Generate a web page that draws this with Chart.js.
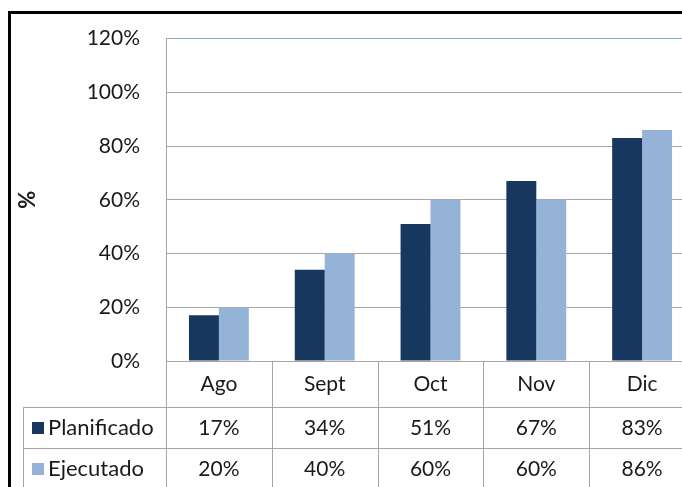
<!DOCTYPE html>
<html>
<head>
<meta charset="utf-8">
<script src="https://cdn.jsdelivr.net/npm/chart.js@4/dist/chart.umd.min.js"></script>
<style>
  html, body { margin: 0; padding: 0; background: #fff; }
  #wrap { width: 682px; height: 487px; overflow: hidden; position: relative; }
  canvas { position: absolute; left: 0; top: 0; }
</style>
</head>
<body>
<div id="wrap">
  <canvas id="chart" width="720" height="500"></canvas>
</div>
<script>
const months = ['Ago', 'Sept', 'Oct', 'Nov', 'Dic'];
const planificado = [17, 34, 51, 67, 83];
const ejecutado = [20, 40, 60, 60, 86];
const seriesNames = ['Planificado', 'Ejecutado'];
const seriesColors = ['#17375E', '#95B3D7'];

const FONT = 'Lato, Calibri, sans-serif';
const TEXT = '#1a1a1a';
const LINE = '#a6a6a6';

// draws the white page + black frame behind everything
const framePlugin = {
    id: 'frame',
    beforeDraw(chart) {
        const ctx = chart.ctx;
        ctx.save();
        ctx.fillStyle = '#fff';
        ctx.fillRect(0, 0, chart.width, chart.height);
        ctx.fillStyle = '#000';
        ctx.fillRect(8, 11, chart.width, 3);
        ctx.fillRect(8, 11, 3, chart.height);
        ctx.restore();
    }
};

// Excel style data table under the plot
const dataTablePlugin = {
    id: 'dataTable',
    afterDraw(chart) {
        const ctx = chart.ctx;
        const x = chart.scales.x;
        const area = chart.chartArea;
        const bottom = chart.height;
        const catW = x.width / months.length;
        const row1 = area.bottom + 46;
        const row2 = row1 + 41;
        const tableLeft = 23;

        ctx.save();
        ctx.strokeStyle = LINE;
        ctx.lineWidth = 1;
        ctx.beginPath();
        for (let i = 0; i <= months.length; i++) {
            const px = Math.round(area.left + i * catW) + 0.5;
            ctx.moveTo(px, area.bottom);
            ctx.lineTo(px, bottom);
        }
        ctx.moveTo(tableLeft + 0.5, row1);
        ctx.lineTo(tableLeft + 0.5, bottom);
        ctx.moveTo(tableLeft, row1 + 0.5);
        ctx.lineTo(area.right, row1 + 0.5);
        ctx.moveTo(tableLeft, row2 + 0.5);
        ctx.lineTo(area.right, row2 + 0.5);
        ctx.stroke();

        ctx.fillStyle = TEXT;
        ctx.font = '21px ' + FONT;
        ctx.textAlign = 'center';
        ctx.textBaseline = 'middle';
        const rowsY = [area.bottom + 23, row1 + 21, row2 + 21];
        months.forEach((m, i) => {
            const cx = x.getPixelForValue(i);
            ctx.fillText(m, cx, rowsY[0]);
            ctx.fillText(planificado[i] + '%', cx, rowsY[1]);
            ctx.fillText(ejecutado[i] + '%', cx, rowsY[2]);
        });

        ctx.textAlign = 'left';
        ctx.font = '22px ' + FONT;
        seriesNames.forEach((name, i) => {
            const cy = rowsY[i + 1];
            ctx.fillStyle = seriesColors[i];
            ctx.fillRect(32, cy - 6, 12, 12);
            ctx.fillStyle = TEXT;
            ctx.fillText(name, 48, cy);
        });
        ctx.restore();
    }
};

new Chart(document.getElementById('chart'), {
    type: 'bar',
    data: {
        labels: months,
        datasets: [
            {
                label: seriesNames[0],
                data: planificado,
                backgroundColor: seriesColors[0],
                categoryPercentage: 0.566,
                barPercentage: 1.0
            },
            {
                label: seriesNames[1],
                data: ejecutado,
                backgroundColor: seriesColors[1],
                categoryPercentage: 0.566,
                barPercentage: 1.0
            }
        ]
    },
    options: {
        responsive: false,
        animation: false,
        events: [],
        layout: {
            padding: { left: 11, top: 36, right: 25, bottom: 139 }
        },
        plugins: {
            legend: { display: false },
            tooltip: { enabled: false }
        },
        scales: {
            x: {
                display: false
            },
            y: {
                min: 0,
                max: 120,
                ticks: {
                    stepSize: 20,
                    padding: 26,
                    color: TEXT,
                    font: { family: FONT, size: 21 },
                    callback: v => v + '%'
                },
                grid: {
                    drawTicks: false,
                    color: ctx => ctx.tick && ctx.tick.value === 120 ? '#8ea9cf' : LINE,
                    lineWidth: 1
                },
                border: { color: LINE },
                title: {
                    display: true,
                    text: '%',
                    color: TEXT,
                    font: { family: FONT, size: 22, weight: 'bold' },
                    padding: { top: 4, bottom: 4 }
                },
                afterFit(scale) {
                    scale.width = 155;
                }
            }
        }
    },
    plugins: [framePlugin, dataTablePlugin]
});
</script>
</body>
</html>
